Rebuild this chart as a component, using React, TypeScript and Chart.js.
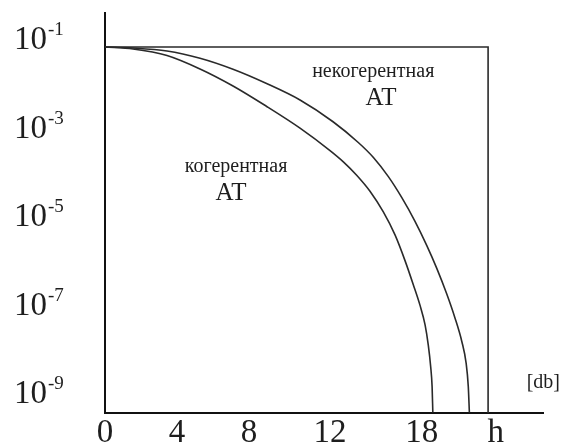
import { useEffect, useRef } from "react";
import { Chart, registerables } from "chart.js";

Chart.register(...registerables);

// Tick marks and labels
const xTickValues = [0, 4, 8, 12.5, 17.6, 21.7];
const xTickLabels = ["0", "4", "8", "12", "18", "h"];
const yTickValues = [1e-1, 1e-3, 1e-5, 1e-7, 1e-9];
const yTickExponents = ["-1", "-3", "-5", "-7", "-9"];

// Coherent AT curve
const coherentX = [0, 1.556, 3.444, 5.278, 7.111, 8.944, 10.833, 12.5, 13.24, 13.98, 14.72, 15.46, 16.11, 16.67, 17.13, 17.5, 17.78, 17.96, 18.09, 18.17, 18.21];
const coherentY = [0.0746, 0.0673, 0.048, 0.0238, 9.8e-3, 3.45e-3, 1.09e-3, 3.38e-4, 1.88e-4, 9.35e-5, 4.06e-5, 1.38e-5, 4.17e-6, 1.08e-6, 3.08e-7, 1.06e-7, 3.84e-8, 1.32e-8, 4.37e-9, 1.54e-9, 4e-10];

// Non-coherent AT curve
const incoherentX = [0, 1.556, 3.444, 5.278, 7.111, 8.944, 10.833, 12.667, 14.07, 14.91, 15.74, 16.48, 17.22, 17.87, 18.43, 18.98, 19.44, 19.82, 20.06, 20.18, 20.24];
const incoherentY = [0.0746, 0.071, 0.0607, 0.0415, 0.0234, 0.01127, 4.72e-3, 1.52e-3, 5.16e-4, 2.36e-4, 8.69e-5, 2.94e-5, 8.47e-6, 2.43e-6, 7.31e-7, 1.94e-7, 5.52e-8, 1.62e-8, 5.21e-9, 1.54e-9, 4e-10];

// Frame (top level line and h limit)
const frameX = [0, 21.28, 21.28];
const frameY = [0.0746, 0.0746, 1e-10];

// Text labels inside the plot
const noteTexts = ["некогерентная", "АТ", "когерентная", "АТ"];
const noteX = [14.9, 15.33, 7.28, 7.0];
const noteY = [0.0157, 3.64e-3, 1.11e-4, 2.58e-5];
const noteSizes = [20, 25, 20, 25];
const unitLabel = "[db]";

const X_MIN = 0;
const X_MAX = 24.33;
const Y_MIN = Math.pow(10, -9.41);
const Y_MAX = Math.pow(10, -0.357);

const SERIF = "'Liberation Serif', 'Times New Roman', serif";
const INK = "#1e1e1e";

function pts(xs: number[], ys: number[]) {
  return xs.map((x, i) => ({ x, y: ys[i] }));
}

const textPlugin = {
  id: "textPlugin",
  afterDraw(chart: any) {
    const { ctx, chartArea, scales } = chart;
    const ys = scales.y;
    const xs = scales.x;
    ctx.save();
    ctx.fillStyle = INK;
    ctx.textBaseline = "alphabetic";
    ctx.textAlign = "left";
    // y tick labels 10^n
    yTickValues.forEach((v, i) => {
      const py = ys.getPixelForValue(v);
      const base = py + 8;
      ctx.font = `33px ${SERIF}`;
      ctx.fillText("10", 14, base);
      const w = ctx.measureText("10").width;
      ctx.font = `19px ${SERIF}`;
      ctx.fillText(yTickExponents[i], 14 + w + 1, base - 14);
    });
    // notes
    ctx.textAlign = "center";
    noteTexts.forEach((t, i) => {
      ctx.font = `${noteSizes[i]}px ${SERIF}`;
      ctx.fillText(t, xs.getPixelForValue(noteX[i]), ys.getPixelForValue(noteY[i]));
    });
    // unit
    ctx.textAlign = "right";
    ctx.font = `20px ${SERIF}`;
    ctx.fillText(unitLabel, chart.width - 1, chartArea.bottom - 25);
    ctx.restore();
  },
};

export default function App() {
  const ref = useRef<HTMLCanvasElement | null>(null);
  useEffect(() => {
    if (!ref.current) return;
    const lineStyle = {
      borderColor: "#2a2a2a",
      borderWidth: 1.6,
      pointRadius: 0,
      fill: false,
    };
    const chart = new Chart(ref.current, {
      type: "line",
      data: {
        datasets: [
          { ...lineStyle, label: "когерентная АТ", data: pts(coherentX, coherentY), cubicInterpolationMode: "monotone" },
          { ...lineStyle, label: "некогерентная АТ", data: pts(incoherentX, incoherentY), cubicInterpolationMode: "monotone" },
          { ...lineStyle, label: "frame", data: pts(frameX, frameY), tension: 0 },
        ],
      },
      options: {
        animation: false,
        responsive: false,
        devicePixelRatio: 1,
        parsing: false,
        layout: { padding: { top: 13, right: 18, left: 0, bottom: 0 } },
        plugins: { legend: { display: false }, tooltip: { enabled: false } },
        scales: {
          x: {
            type: "linear",
            min: X_MIN,
            max: X_MAX,
            grid: { display: false, drawTicks: false, tickLength: 0 },
            border: { display: true, color: "#111", width: 2 },
            afterBuildTicks: (s: any) => {
              s.ticks = xTickValues.map((v) => ({ value: v }));
            },
            afterFit: (s: any) => {
              s.height = 33;
            },
            ticks: {
              autoSkip: false,
              maxRotation: 0,
              padding: 1,
              color: INK,
              font: { family: SERIF, size: 33 },
              callback: (_v: any, i: number) => xTickLabels[i],
            },
          },
          y: {
            type: "logarithmic",
            min: Y_MIN,
            max: Y_MAX,
            grid: { display: false, drawTicks: false, tickLength: 0 },
            border: { display: true, color: "#111", width: 2 },
            afterBuildTicks: (s: any) => {
              s.ticks = yTickValues.map((v) => ({ value: v }));
            },
            afterFit: (s: any) => {
              s.width = 105;
            },
            ticks: { display: false },
          },
        },
      } as any,
      plugins: [textPlugin],
    });
    return () => chart.destroy();
  }, []);
  return (
    <div style={{ position: "fixed", left: 0, top: 0, width: 561, height: 446, background: "#fff" }}>
      <canvas ref={ref} width={561} height={446} style={{ width: 561, height: 446 }} />
    </div>
  );
}
